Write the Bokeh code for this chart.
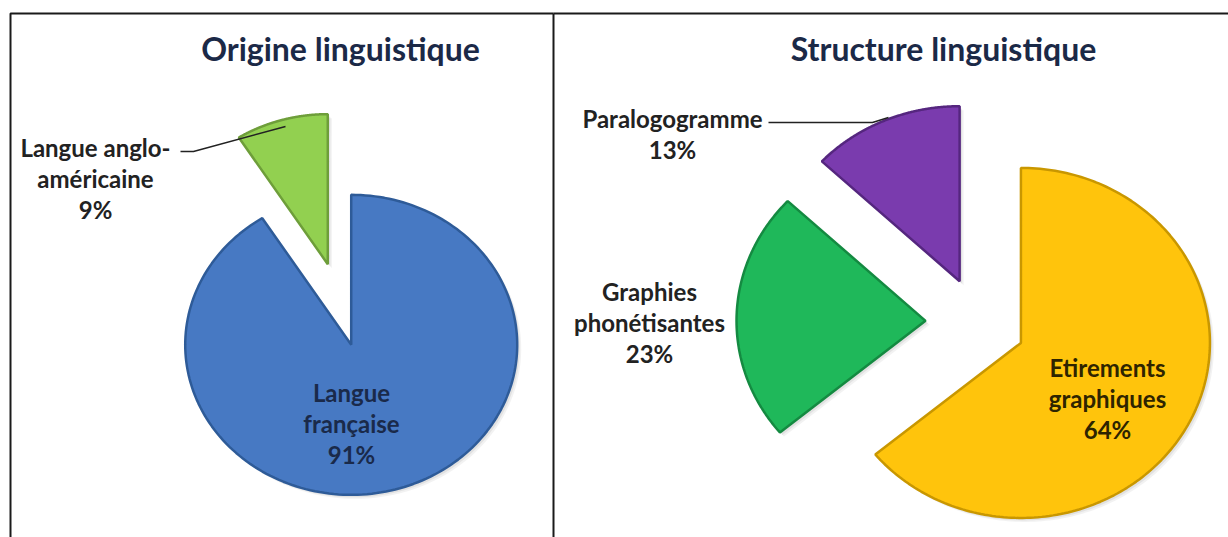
import numpy as np
from bokeh.plotting import figure
from bokeh.models import Range1d
from bokeh.core.properties import value
from bokeh.embed import file_html
from bokeh.resources import INLINE

# ---------------- data ----------------
origin_title = "Origine linguistique"
origin_labels = ["Langue française", "Langue anglo-américaine"]
origin_lines = [["Langue", "française"], ["Langue anglo-", "américaine"]]
origin_values = [91, 9]

structure_title = "Structure linguistique"
structure_labels = ["Etirements graphiques", "Graphies phonétisantes", "Paralogogramme"]
structure_lines = [["Etirements", "graphiques"], ["Graphies", "phonétisantes"], ["Paralogogramme"]]
structure_values = [64, 23, 13]

# ---------------- layout (page pixel coordinates) ----------------
W, H = 1228, 537
def X(px):
    return px
def Y(py):
    return H - py

FONT = "Lato"
LABEL_SIZE = "24px"
TITLE_SIZE = "32px"
LINE_STEP = 31

p = figure(width=W, height=H, x_range=Range1d(0, W), y_range=Range1d(0, H),
           output_backend="svg", toolbar_location=None, min_border=0)
p.axis.visible = False
p.xgrid.visible = False
p.ygrid.visible = False
p.outline_line_color = None
p.background_fill_color = "white"
p.border_fill_color = "white"

# frame borders
p.multi_line(xs=[[X(10), X(10), X(553)], [X(553), X(553)], [X(553), X(1230)]],
             ys=[[Y(545), Y(13), Y(13)], [Y(13), Y(545)], [Y(13), Y(13)]],
             line_color="#1a1a1a", line_width=2)


def draw_pie(values, colors, rims, center, rx, ry, explode):
    vals = np.array(values, dtype=float)
    frac = vals / vals.sum()
    cum = np.concatenate([[0.0], np.cumsum(frac)])
    xs, ys = [], []
    cx, cy = X(center[0]), Y(center[1])
    for i in range(len(vals)):
        a_start = np.pi / 2 - 2 * np.pi * cum[i + 1]
        a_end = np.pi / 2 - 2 * np.pi * cum[i]
        mid = 0.5 * (a_start + a_end)
        ax = cx + explode[i] * np.cos(mid)
        ay = cy + explode[i] * np.sin(mid)
        t = np.linspace(a_start, a_end, 200)
        px = np.concatenate([[ax], ax + rx * np.cos(t)])
        py = np.concatenate([[ay], ay + ry * np.sin(t)])
        xs.append(list(px))
        ys.append(list(py))
    # soft shadow
    for k, a in [(4, 0.10), (2.5, 0.14)]:
        p.patches(xs=[[x + k for x in s] for s in xs], ys=[[y - k for y in s] for y_ in [0] for s in ys],
                  fill_color="#808080", fill_alpha=a, line_color=None)
    p.patches(xs=xs, ys=ys, fill_color=colors, line_color=rims, line_width=2.5)


draw_pie(origin_values, ["#4779C3", "#92D050"], ["#2E5B98", "#6E9E3A"],
         center=(339, 304), rx=166, ry=150, explode=[42, 42])
draw_pie(structure_values, ["#FFC40C", "#1FB85A", "#7A3BAE"],
         ["#C99700", "#148A41", "#55267F"],
         center=(977, 322), rx=189, ry=175, explode=[48, 52, 45])


def label(lines, pct, x, y_first, color):
    all_lines = list(lines) + [pct]
    p.text(x=[X(x)] * len(all_lines),
           y=[Y(y_first + k * LINE_STEP) for k in range(len(all_lines))],
           text=all_lines, text_align="center", text_baseline="alphabetic",
           text_font=value(FONT), text_font_style="bold",
           text_font_size=LABEL_SIZE, text_color=color)


def pct(v):
    return f"{v}%"

# titles
p.text(x=[X(340), X(943)], y=[Y(48), Y(48)], text=[origin_title, structure_title],
       text_align="center", text_baseline="alphabetic", text_font=value(FONT),
       text_font_style="bold", text_font_size=TITLE_SIZE, text_color="#1B2947")

# left pie labels
label(origin_lines[0], pct(origin_values[0]), 351, 392, "#1A2A4A")
label(origin_lines[1], pct(origin_values[1]), 95, 147, "#222222")
# right pie labels
label(structure_lines[0], pct(structure_values[0]), 1107, 367, "#2E2400")
label(structure_lines[1], pct(structure_values[1]), 649, 291, "#222222")
label(structure_lines[2], pct(structure_values[2]), 672, 118, "#222222")

# leader lines
p.line(x=[X(180), X(193), X(285)], y=[Y(151), Y(151), Y(126)],
       line_color="#222222", line_width=1.5)
p.line(x=[X(768), X(872), X(888)], y=[Y(122), Y(122), Y(117)],
       line_color="#222222", line_width=1.5)

open("out.html", "w").write(file_html(p, INLINE))
